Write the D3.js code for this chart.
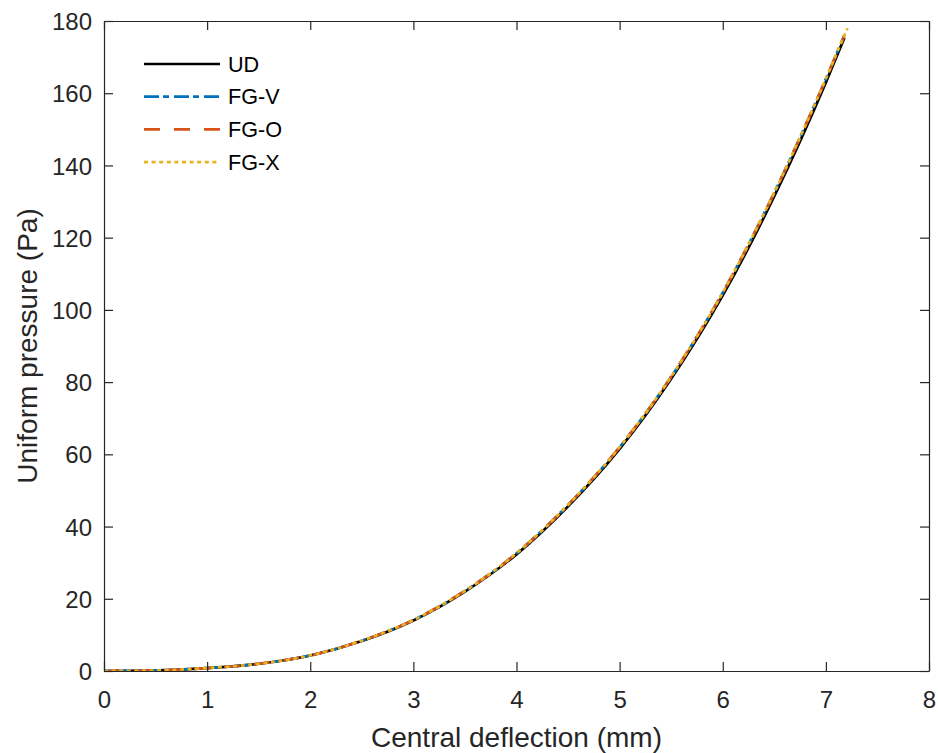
<!DOCTYPE html>
<html>
<head>
<meta charset="utf-8">
<script src="https://cdn.jsdelivr.net/npm/d3@7"></script>
<style>
    body { margin: 0; background: #fff; }
    svg { display: block; font-family: "Liberation Sans", Arial, Helvetica, sans-serif; }
    .tick text { fill: #262626; }
</style>
</head>
<body>
<svg id="chart" width="938" height="753"></svg>
<script>
// central deflection (mm) for the load steps
const deflection = [0, 0.5, 1, 1.5, 2, 2.5, 3, 3.5, 4, 4.5, 5, 5.5, 6, 6.5, 7, 7.18];
const deflectionFGX = [0, 0.5, 1, 1.5, 2, 2.5, 3, 3.5, 4, 4.5, 5, 5.5, 6, 6.5, 7, 7.18, 7.21];

// uniform pressure (Pa)
const pressureUD  = [0, 0.15, 0.8, 2.0, 4.3, 8.3, 14.0, 22.0, 32.3, 45.6, 61.5, 80.9, 104.0, 131.5, 163.0, 175.4];
const pressureFGV = [0, 0.15, 0.8, 2.0, 4.3, 8.4, 14.1, 22.2, 32.6, 46.0, 62.0, 81.5, 104.8, 132.5, 164.0, 176.1];
const pressureFGO = [0, 0.15, 0.8, 2.0, 4.3, 8.4, 14.1, 22.2, 32.6, 46.0, 62.0, 81.5, 104.8, 132.4, 163.9, 176.0];
const pressureFGX = [0, 0.15, 0.8, 2.0, 4.3, 8.4, 14.1, 22.2, 32.6, 46.0, 62.0, 81.5, 104.8, 132.5, 164.0, 176.1, 178.0];

const xTicks = [0, 1, 2, 3, 4, 5, 6, 7, 8];
const yTicks = [0, 20, 40, 60, 80, 100, 120, 140, 160, 180];

const series = [
    { name: "UD",   xs: deflection,    ys: pressureUD,  color: "#000000", dash: null },
    { name: "FG-V", xs: deflection,    ys: pressureFGV, color: "#0072BD", dash: "15,4,6,5" },
    { name: "FG-O", xs: deflection,    ys: pressureFGO, color: "#D95319", dash: "16,14" },
    { name: "FG-X", xs: deflectionFGX, ys: pressureFGX, color: "#EDB120", dash: "4,3.6" }
];

const svg = d3.select("#chart");
const plotLeft = 104, plotRight = 929, plotTop = 21, plotBottom = 671;

const x = d3.scaleLinear().domain([0, 8]).range([plotLeft, plotRight]);
const y = d3.scaleLinear().domain([0, 180]).range([plotBottom, plotTop]);

svg.append("defs").append("clipPath").attr("id", "clip")
    .append("rect")
    .attr("x", plotLeft).attr("y", plotTop)
    .attr("width", plotRight - plotLeft).attr("height", plotBottom - plotTop);

// curves
const line = d3.line()
    .x(d => x(d[0]))
    .y(d => y(d[1]))
    .curve(d3.curveMonotoneX);

const plot = svg.append("g").attr("clip-path", "url(#clip)");
series.forEach(s => {
    plot.append("path")
        .datum(s.xs.map((v, i) => [v, s.ys[i]]))
        .attr("fill", "none")
        .attr("stroke", s.color)
        .attr("stroke-width", 2.7)
        .attr("stroke-dasharray", s.dash)
        .attr("d", line);
});

// axes (MATLAB style box, ticks inward on all sides)
const tickLen = 9;
const axisColor = "#262626";

const xAxis = svg.append("g")
    .attr("transform", `translate(0,${plotBottom})`)
    .call(d3.axisBottom(x).tickValues(xTicks).tickSizeInner(-tickLen).tickSizeOuter(0).tickPadding(20));
const yAxis = svg.append("g")
    .attr("transform", `translate(${plotLeft},0)`)
    .call(d3.axisLeft(y).tickValues(yTicks).tickSizeInner(-tickLen).tickSizeOuter(0).tickPadding(12));
const xTop = svg.append("g")
    .attr("transform", `translate(0,${plotTop})`)
    .call(d3.axisTop(x).tickValues(xTicks).tickSizeInner(-tickLen).tickSizeOuter(0).tickFormat(""));
const yRight = svg.append("g")
    .attr("transform", `translate(${plotRight},0)`)
    .call(d3.axisRight(y).tickValues(yTicks).tickSizeInner(-tickLen).tickSizeOuter(0).tickFormat(""));

[xAxis, yAxis, xTop, yRight].forEach(g => {
    g.select(".domain").attr("stroke", axisColor).attr("stroke-width", 1.2);
    g.selectAll(".tick line").attr("stroke", axisColor).attr("stroke-width", 1.2);
    g.selectAll(".tick text")
        .attr("font-size", 24)
        .attr("font-family", "Liberation Sans, Arial, sans-serif");
});
yAxis.selectAll(".tick text").attr("dy", "0.36em");

// axis labels
svg.append("text")
    .attr("x", (plotLeft + plotRight) / 2)
    .attr("y", 747)
    .attr("text-anchor", "middle")
    .attr("font-size", 28)
    .attr("fill", axisColor)
    .text("Central deflection (mm)");

svg.append("text")
    .attr("transform", `translate(37,${(plotTop + plotBottom) / 2}) rotate(-90)`)
    .attr("text-anchor", "middle")
    .attr("font-size", 28)
    .attr("fill", axisColor)
    .text("Uniform pressure (Pa)");

// legend
const legend = svg.append("g");
series.forEach((s, i) => {
    const ly = 64 + i * 32.7;
    legend.append("line")
        .attr("x1", 144).attr("x2", 220)
        .attr("y1", ly).attr("y2", ly)
        .attr("stroke", s.color)
        .attr("stroke-width", 2.7)
        .attr("stroke-dasharray", s.dash);
    legend.append("text")
        .attr("x", 228)
        .attr("y", ly)
        .attr("dy", "0.36em")
        .attr("font-size", 21.6)
        .attr("fill", "#000")
        .text(s.name);
});
</script>
</body>
</html>
